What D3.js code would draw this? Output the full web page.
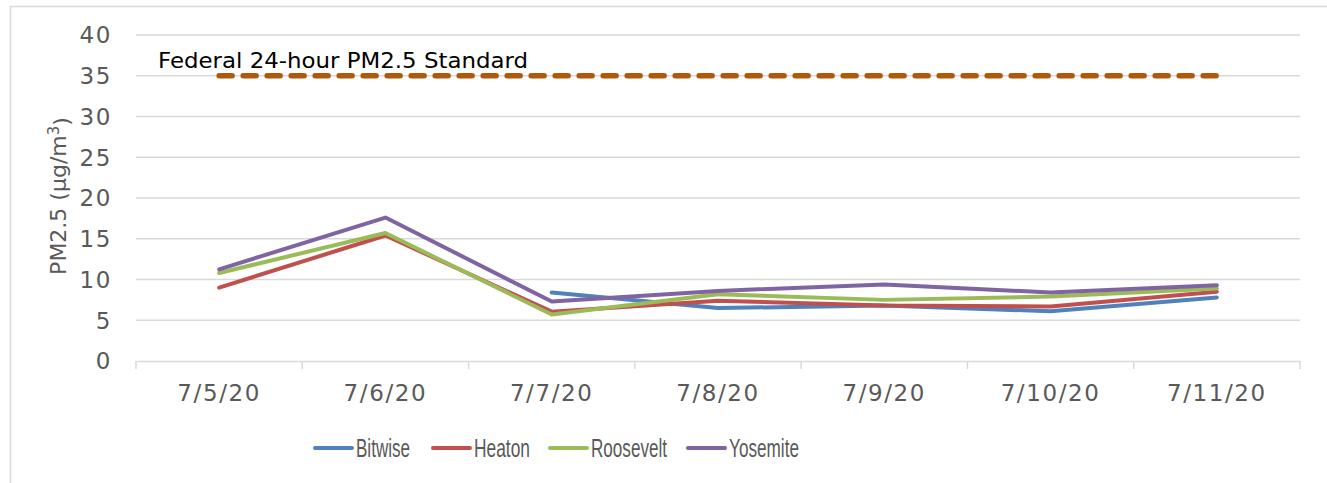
<!DOCTYPE html>
<html>
<head>
<meta charset="utf-8">
<script src="https://cdn.jsdelivr.net/npm/d3@7"></script>
<style>
  body { margin: 0; background: #fff; }
  svg { display: block; font-family: "DejaVu Sans", "Liberation Sans", sans-serif; }
  .tick-label { fill: #595959; font-size: 23px; letter-spacing: 1.6px; }
  .legend text { fill: #595959; font-size: 25px; font-family: "Liberation Sans", sans-serif; }
</style>
</head>
<body>
<svg id="chart" width="1327" height="483"></svg>
<script>
const dates = ["7/5/20", "7/6/20", "7/7/20", "7/8/20", "7/9/20", "7/10/20", "7/11/20"];
const bitwise = [null, null, 8.4, 6.5, 6.8, 6.1, 7.8];
const heaton = [9.0, 15.4, 6.05, 7.4, 6.8, 6.7, 8.5];
const roosevelt = [10.8, 15.7, 5.7, 8.2, 7.5, 7.9, 8.9];
const yosemite = [11.25, 17.6, 7.3, 8.6, 9.4, 8.4, 9.3];
const standard = [35, 35, 35, 35, 35, 35, 35];
const yTicks = [0, 5, 10, 15, 20, 25, 30, 35, 40];

const series = [
  { name: "Bitwise", values: bitwise, color: "#4f81bd", w: 54 },
  { name: "Heaton", values: heaton, color: "#c0504d", w: 56 },
  { name: "Roosevelt", values: roosevelt, color: "#9bbb59", w: 76 },
  { name: "Yosemite", values: yosemite, color: "#8064a2", w: 70 },
];

const svg = d3.select("#chart");
const m = { left: 136, right: 1300, top: 35, bottom: 361 };

// chart frame (runs off right/bottom edges)
svg.append("rect").attr("x", 10.5).attr("y", 6.5).attr("width", 1400).attr("height", 600)
  .attr("fill", "none").attr("stroke", "#d9d9d9").attr("stroke-width", 1.5);

const x = d3.scaleBand().domain(dates).range([m.left, m.right]);
const y = d3.scaleLinear().domain([0, 40]).range([m.bottom, m.top]);
const cx = (d) => x(d) + x.bandwidth() / 2;

// gridlines
svg.append("g").selectAll("line").data(yTicks.filter((d) => d > 0)).join("line")
  .attr("x1", m.left).attr("x2", m.right)
  .attr("y1", (d) => y(d)).attr("y2", (d) => y(d))
  .attr("stroke", "#d9d9d9").attr("stroke-width", 1.5);

// y axis labels
svg.append("g").selectAll("text").data(yTicks).join("text")
  .attr("class", "tick-label")
  .attr("x", 112).attr("y", (d) => y(d)).attr("dy", "0.36em")
  .attr("text-anchor", "end").text((d) => d);

// x axis
const xAxis = svg.append("g").attr("transform", `translate(0,${m.bottom})`)
  .call(d3.axisBottom(x).tickSize(0).tickFormat(""));
xAxis.select(".domain").attr("stroke", "#d9d9d9").attr("stroke-width", 1.5);
const bounds = dates.map((d) => x(d)).concat([m.right]);
xAxis.selectAll(".bound").data(bounds).join("line").attr("class", "bound")
  .attr("x1", (d) => d).attr("x2", (d) => d).attr("y1", 0).attr("y2", 8)
  .attr("stroke", "#d9d9d9").attr("stroke-width", 1.5);
svg.append("g").selectAll("text").data(dates).join("text")
  .attr("class", "tick-label")
  .attr("x", (d) => cx(d)).attr("y", 401)
  .attr("text-anchor", "middle").text((d) => d);

// y title
svg.append("text")
  .attr("transform", "translate(66,196) rotate(-90)")
  .attr("text-anchor", "middle").attr("fill", "#595959").style("font-size", "22px")
  .call((t) => {
    t.append("tspan").text("PM2.5 (µg/m");
    t.append("tspan").attr("dy", "-0.45em").style("font-size", "15px").text("3");
    t.append("tspan").attr("dy", "0.45em").text(")");
  });

// standard line
const stdLine = d3.line().x((d, i) => cx(dates[i])).y((d) => y(d));
svg.append("path").datum(standard).attr("d", stdLine)
  .attr("fill", "none").attr("stroke", "#ae5a0a").attr("stroke-width", 5.5)
  .attr("stroke-linecap", "round").attr("stroke-dasharray", "13,11");

svg.append("text").attr("x", 158).attr("y", 68)
  .attr("fill", "#000").style("font-size", "22px")
  .attr("textLength", 370).attr("lengthAdjust", "spacingAndGlyphs")
  .text("Federal 24-hour PM2.5 Standard");

// data lines
const line = d3.line().defined((d) => d != null).x((d, i) => cx(dates[i])).y((d) => y(d));
series.forEach((s) => {
  svg.append("path").datum(s.values).attr("d", line)
    .attr("fill", "none").attr("stroke", s.color).attr("stroke-width", 4)
    .attr("stroke-linejoin", "round").attr("stroke-linecap", "round");
});

// legend
const legendX = [315, 433, 550, 688];
const lg = svg.append("g").attr("class", "legend");
series.forEach((s, i) => {
  const g = lg.append("g").attr("transform", `translate(${legendX[i]},448)`);
  g.append("line").attr("x1", 0).attr("x2", 37).attr("stroke", s.color)
    .attr("stroke-width", 4).attr("stroke-linecap", "round");
  g.append("text").attr("x", 41).attr("dy", "0.36em")
    .attr("textLength", s.w).attr("lengthAdjust", "spacingAndGlyphs").text(s.name);
});
</script>
</body>
</html>
